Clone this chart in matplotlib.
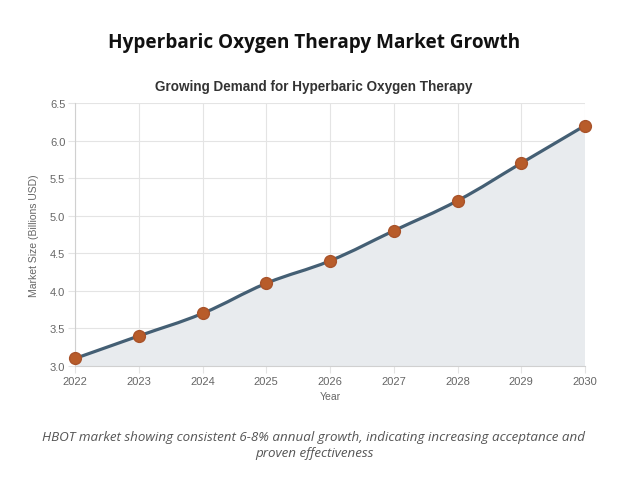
import numpy as np
import matplotlib.pyplot as plt
from matplotlib.path import Path
from matplotlib.patches import PathPatch

# Data
years = [2022, 2023, 2024, 2025, 2026, 2027, 2028, 2029, 2030]
market_size = [3.1, 3.4, 3.7, 4.1, 4.4, 4.8, 5.2, 5.7, 6.2]
y_ticks = [3.0, 3.5, 4.0, 4.5, 5.0, 5.5, 6.0, 6.5]

line_color = '#445f74'
point_color = '#b85c2a'
fill_color = '#e8ebee'
grid_color = '#e4e4e4'


def bezier_path(xs, ys, sx, sy, tension=0.4):
    """Chart.js style smooth curve as a cubic Bezier path (sx, sy = px per unit)."""
    px = np.array(xs, float) * sx
    py = np.array(ys, float) * sy
    n = len(px)
    cps = []
    for i in range(n):
        p0 = (px[max(i - 1, 0)], py[max(i - 1, 0)])
        p1 = (px[i], py[i])
        p2 = (px[min(i + 1, n - 1)], py[min(i + 1, n - 1)])
        d01 = np.hypot(p1[0] - p0[0], p1[1] - p0[1])
        d12 = np.hypot(p2[0] - p1[0], p2[1] - p1[1])
        s01 = d01 / (d01 + d12) if d01 + d12 else 0
        s12 = d12 / (d01 + d12) if d01 + d12 else 0
        fa, fb = tension * s01, tension * s12
        prev = (p1[0] - fa * (p2[0] - p0[0]), p1[1] - fa * (p2[1] - p0[1]))
        nxt = (p1[0] + fb * (p2[0] - p0[0]), p1[1] + fb * (p2[1] - p0[1]))
        cps.append((prev, nxt))
    verts = [(px[0], py[0])]
    codes = [Path.MOVETO]
    for i in range(1, n):
        verts += [cps[i - 1][1], cps[i][0], (px[i], py[i])]
        codes += [Path.CURVE4] * 3
    verts = [(x / sx, y / sy) for x, y in verts]
    return verts, codes


fig = plt.figure(figsize=(6.17, 4.85), dpi=100)
fig.patch.set_facecolor('white')
ax = fig.add_axes([0.1216, 0.2433, 0.8266, 0.5423])

ax.set_xlim(2022, 2030)
ax.set_ylim(3.0, 6.5)

verts, codes = bezier_path(years, market_size, 63.75, 75.0)

# filled area under the curve
fill_verts = verts + [(years[-1], 3.0), (years[0], 3.0), verts[0]]
fill_codes = codes + [Path.LINETO, Path.LINETO, Path.CLOSEPOLY]
ax.add_patch(PathPatch(Path(fill_verts, fill_codes), facecolor=fill_color,
                       edgecolor='none', zorder=1))
ax.add_patch(PathPatch(Path(verts, codes), facecolor='none', edgecolor=line_color,
                       linewidth=2.3, zorder=3, capstyle='round', joinstyle='round'))

ax.plot(years, market_size, 'o', color=point_color, markersize=8.5,
        markeredgecolor='#a9532a', markeredgewidth=1, zorder=4, clip_on=False)

ax.set_xticks(years)
ax.set_yticks(y_ticks)
ax.set_xticklabels([str(y) for y in years])
ax.set_yticklabels([f'{v:.1f}' for v in y_ticks])
ax.tick_params(axis='both', labelsize=8, colors='#666666', length=5,
               color=grid_color, pad=2)
for lbl in ax.get_xticklabels() + ax.get_yticklabels():
    lbl.set_fontfamily('Liberation Sans')
ax.grid(True, color=grid_color, linewidth=0.8, zorder=0)
ax.set_axisbelow(True)
for side in ['top', 'right']:
    ax.spines[side].set_visible(False)
for side in ['left', 'bottom']:
    ax.spines[side].set_color('#d0d0d0')
    ax.spines[side].set_linewidth(0.8)

ax.set_xlabel('Year', fontsize=7.5, color='#666666', family='Liberation Sans', labelpad=4)
ax.set_ylabel('Market Size (Billions USD)', fontsize=7.5, color='#666666',
              family='Liberation Sans', labelpad=8)

cx = 314 / 617
fig.text(cx, 1 - 43 / 485, 'Hyperbaric Oxygen Therapy Market Growth', ha='center',
         va='center', fontsize=13.7, fontweight='bold', family='Open Sans', color='#111111')
fig.text(cx, 1 - 87 / 485, 'Growing Demand for Hyperbaric Oxygen Therapy', ha='center',
         va='center', fontsize=9.75, fontweight='bold', family='Liberation Sans', color='#333333')
fig.text(cx, 1 - 446 / 485,
         'HBOT market showing consistent 6-8% annual growth, indicating increasing acceptance and\nproven effectiveness',
         ha='center', va='center', fontsize=9.6, style='italic', family='Open Sans',
         color='#555555', linespacing=1.3)

fig.savefig('out.png', dpi=100, facecolor='white')
